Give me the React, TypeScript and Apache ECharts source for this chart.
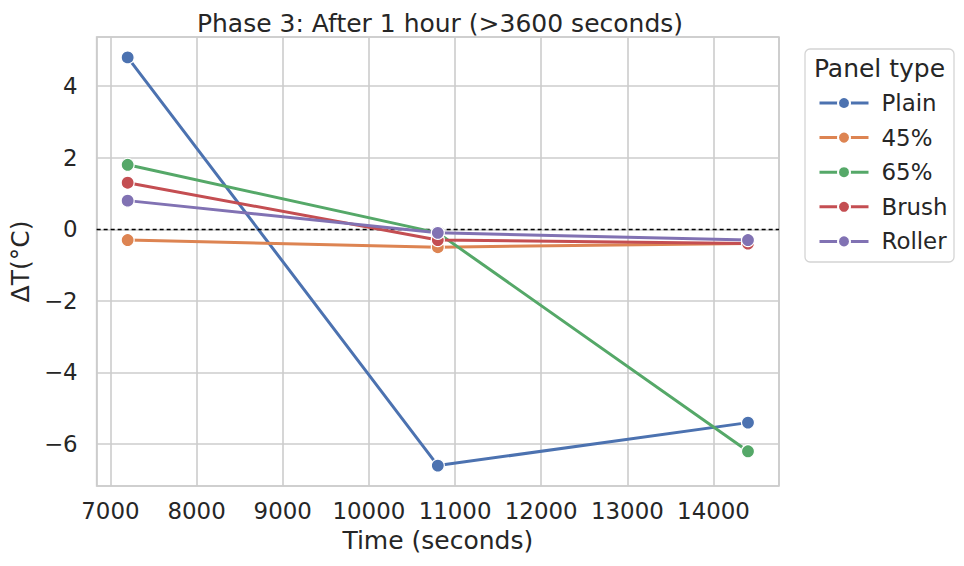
import React, { useEffect, useRef } from "react";
import * as echarts from "echarts";

const times = [7200, 10800, 14400];
const seriesNames = ["Plain", "45%", "65%", "Brush", "Roller"];
const plainVals = [4.8, -6.6, -5.4];
const p45Vals = [-0.3, -0.5, -0.4];
const p65Vals = [1.8, -0.1, -6.2];
const brushVals = [1.3, -0.3, -0.4];
const rollerVals = [0.8, -0.1, -0.3];
const colors = ["#4C72B0", "#DD8452", "#55A868", "#C44E52", "#8172B3"];

const FONT = "DejaVu Sans";
const TXT = "#262626";

export default function App() {
  const ref = useRef<HTMLDivElement>(null);
  useEffect(() => {
    if (!ref.current) return;
    const chart = echarts.init(ref.current, undefined, { renderer: "svg" });
    const allVals = [plainVals, p45Vals, p65Vals, brushVals, rollerVals];
    const series: any[] = allVals.map((vals, i) => ({
      name: seriesNames[i],
      type: "line",
      data: times.map((t, j) => [t, vals[j]]),
      symbol: "circle",
      symbolSize: 13,
      lineStyle: { color: colors[i], width: 3 },
      itemStyle: { color: colors[i], borderColor: "#ffffff", borderWidth: 1.2 },
      z: 3 + i,
    }));
    series[4].markLine = {
      silent: true,
      symbol: "none",
      label: { show: false },
      lineStyle: { color: "#000000", type: [4, 3], width: 1.3 },
      data: [{ yAxis: 0 }],
    };
    const option: any = {
      animation: false,
      backgroundColor: "#ffffff",
      textStyle: { fontFamily: FONT },
      title: {
        text: "Phase 3: After 1 hour (>3600 seconds)",
        left: 435,
        textAlign: "center",
        top: 6,
        textStyle: { fontFamily: FONT, fontSize: 25, fontWeight: "normal", color: TXT },
      },
      grid: {
        left: 91,
        right: 185,
        top: 37,
        bottom: 80,
        show: true,
        borderColor: "#cccccc",
        borderWidth: 1.6,
        backgroundColor: "transparent",
      },
      xAxis: {
        type: "value",
        min: 6840,
        max: 14760,
        minInterval: 1000,
        maxInterval: 1000,
        name: "Time (seconds)",
        nameLocation: "middle",
        nameGap: 42,
        nameTextStyle: { fontFamily: FONT, fontSize: 25, color: TXT },
        axisLine: { show: false },
        axisTick: { show: false },
        axisLabel: {
          fontFamily: FONT,
          fontSize: 22.9,
          color: TXT,
          margin: 13,
          showMinLabel: false,
          showMaxLabel: false,
          formatter: (v: number) => String(v),
        },
        splitLine: { show: true, lineStyle: { color: "#cccccc", width: 1.6 } },
      },
      yAxis: {
        type: "value",
        min: -7.17,
        max: 5.37,
        minInterval: 2,
        maxInterval: 2,
        name: "ΔT(°C)",
        nameLocation: "middle",
        nameGap: 45,
        nameTextStyle: { fontFamily: FONT, fontSize: 25, color: TXT },
        axisLine: { show: false },
        axisTick: { show: false },
        axisLabel: {
          fontFamily: FONT,
          fontSize: 22.9,
          color: TXT,
          margin: 19,
          showMinLabel: false,
          showMaxLabel: false,
          formatter: (v: number) => (v < 0 ? "\u2212" + Math.abs(v) : String(v)),
        },
        splitLine: { show: true, lineStyle: { color: "#cccccc", width: 1.6 } },
      },
      legend: {
        orient: "vertical",
        left: 813,
        top: 86,
        data: seriesNames,
        itemWidth: 49,
        itemHeight: 15,
        itemGap: 10.6,
        lineStyle: { width: 3 },
        textStyle: {
          fontFamily: FONT,
          fontSize: 22.9,
          color: TXT,
          lineHeight: 24,
          padding: [0, 0, 0, 8],
        },
      },
      graphic: [
        {
          type: "rect",
          shape: { x: 805, y: 49, width: 149, height: 213, r: 5 },
          style: { fill: "#ffffff", stroke: "#d4d4d4", lineWidth: 1.3 },
          z: -1,
          silent: true,
        },
        {
          type: "text",
          x: 879.5,
          y: 68.5,
          style: {
            text: "Panel type",
            font: `25px "${FONT}"`,
            fill: TXT,
            textAlign: "center",
            textVerticalAlign: "middle",
          },
          silent: true,
        },
      ],
      series,
    };
    chart.setOption(option);
    return () => chart.dispose();
  }, []);
  return (
    <div
      ref={ref}
      style={{ position: "absolute", left: 0, top: 0, width: 964, height: 566 }}
    />
  );
}
